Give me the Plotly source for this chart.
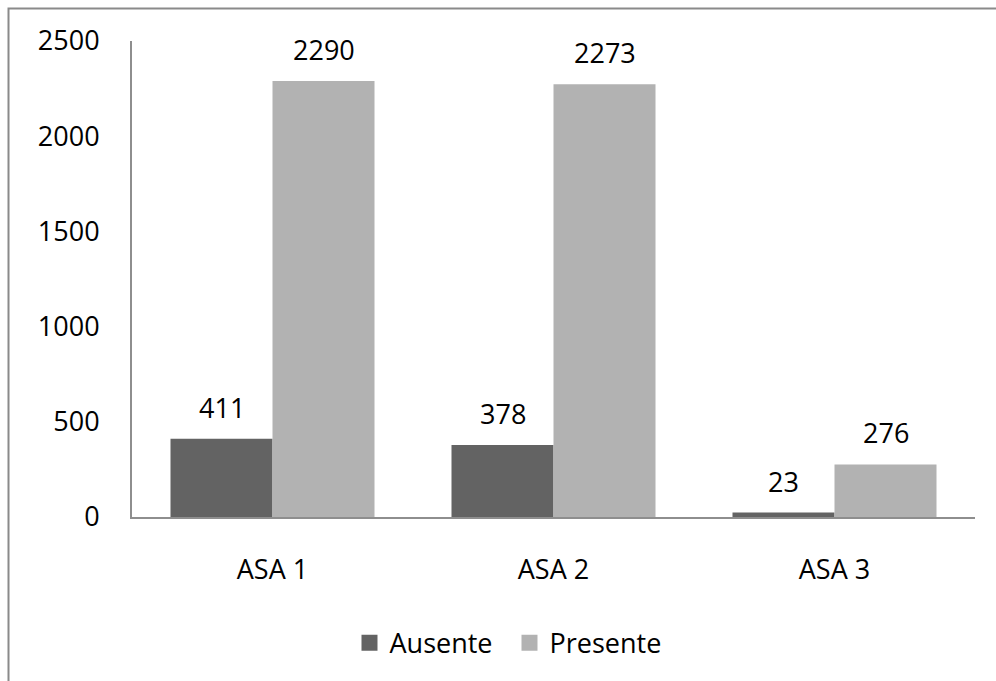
import plotly.graph_objects as go

# Counts per ASA class, split by presence
categories = ["ASA 1", "ASA 2", "ASA 3"]
ausente = [411, 378, 23]
presente = [2290, 2273, 276]
y_ticks = [0, 500, 1000, 1500, 2000, 2500]

FONT = "Open Sans, Liberation Sans, sans-serif"
FSIZE = 27
COLORS = {"Ausente": "#636363", "Presente": "#b2b2b2"}
BARGAP = 0.274
half = (1 - BARGAP) / 4  # offset of each bar centre from its category centre

fig = go.Figure()
for name, vals in (("Ausente", ausente), ("Presente", presente)):
    fig.add_trace(go.Bar(name=name, x=categories, y=vals, showlegend=False,
                         marker=dict(color=COLORS[name], line=dict(width=0))))
    # square legend keys
    fig.add_trace(go.Scatter(name=name, x=[None], y=[None], mode="markers",
                             marker=dict(symbol="square", size=18, color=COLORS[name])))

# Value labels above each bar
for i, (a, p) in enumerate(zip(ausente, presente)):
    for val, off in ((a, -half), (p, half)):
        fig.add_annotation(x=i + off, y=val, text=str(val), showarrow=False,
                           yanchor="bottom", yshift=11,
                           font=dict(family=FONT, size=FSIZE, color="#000000"))

# Outer frame around the chart area
fig.add_shape(type="rect", xref="paper", yref="paper",
              x0=-0.1465, x1=1.2, y0=-0.5, y1=1.0683,
              line=dict(color="#8a8a8a", width=2), layer="below")

fig.update_layout(
    width=996, height=681,
    margin=dict(l=132, r=21, t=41, b=164),
    paper_bgcolor="white", plot_bgcolor="white",
    barmode="group", bargap=BARGAP, bargroupgap=0,
    font=dict(family=FONT, size=FSIZE, color="#000000"),
    showlegend=True,
    legend=dict(orientation="h", x=0.258, xanchor="left", y=-0.265, yanchor="middle",
                font=dict(family=FONT, size=FSIZE), itemwidth=30, entrywidth=115,
                traceorder="normal", tracegroupgap=0),
    xaxis=dict(showline=True, linecolor="#8e8e8e", linewidth=2, ticks="",
               showgrid=False, ticklabelstandoff=28, zeroline=False),
    yaxis=dict(range=[0, 2500], tickvals=y_ticks, showline=True, linecolor="#8e8e8e",
               linewidth=2, ticks="", showgrid=False, zeroline=False,
               ticklabelstandoff=25),
)

fig.write_html("out.html")
